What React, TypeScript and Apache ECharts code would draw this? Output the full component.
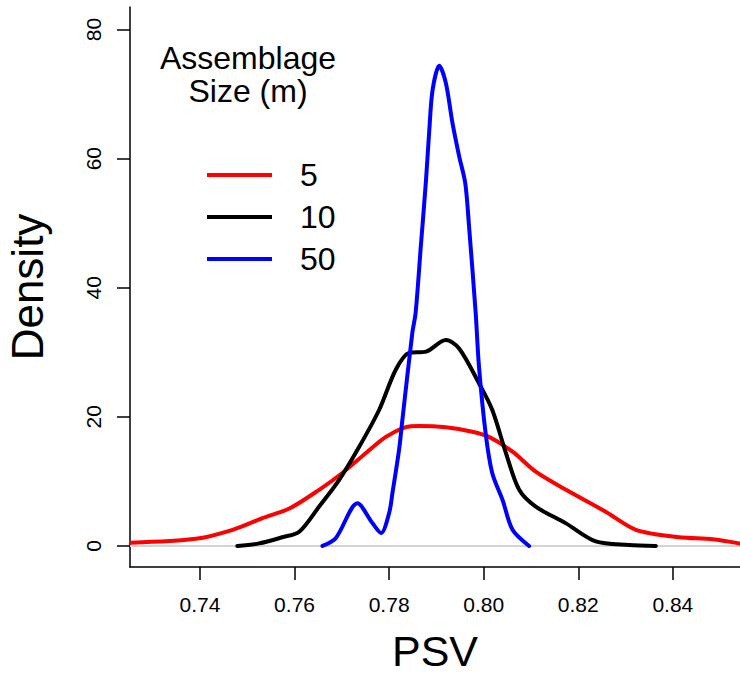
import React, { useEffect, useRef } from "react";
import * as echarts from "echarts";

const FONT = "'Liberation Sans', Arial, Helvetica, sans-serif";

const xTicks = [0.74, 0.76, 0.78, 0.8, 0.82, 0.84];
const yTicks = [0, 20, 40, 60, 80];
const seriesNames = ["5", "10", "50"];
const seriesColors = ["#ff0000", "#000000", "#0000ff"];
const legendTitle = ["Assemblage", "Size (m)"];

const psv5 = [0.7254, 0.7391, 0.7469, 0.7532, 0.7589, 0.7652, 0.7701, 0.7751, 0.7793, 0.7835, 0.7863, 0.792, 0.7976, 0.8011, 0.8061, 0.811, 0.8174, 0.8258, 0.8322, 0.8413, 0.8484, 0.854];
const dens5 = [0.5, 1.1, 2.5, 4.3, 5.8, 8.7, 11.3, 14.4, 16.9, 18.4, 18.6, 18.4, 17.7, 16.9, 14.6, 11.5, 8.7, 5.3, 2.5, 1.35, 1.04, 0.4];

const psv10 = [0.7479, 0.7525, 0.7574, 0.761, 0.7652, 0.7694, 0.7737, 0.7779, 0.7814, 0.7842, 0.7878, 0.792, 0.7948, 0.799, 0.8018, 0.8047, 0.8075, 0.811, 0.8174, 0.8237, 0.8307, 0.8364];
const dens10 = [0, 0.4, 1.35, 2.2, 6.1, 10.2, 15.4, 21.1, 27.3, 29.9, 30.1, 31.9, 30.6, 25.2, 21.1, 14.4, 8.7, 6.1, 3.5, 0.7, 0.16, 0];

const psv50 = [0.7659, 0.7687, 0.7733, 0.7765, 0.7783, 0.78, 0.7807, 0.7821, 0.7828, 0.7849, 0.7856, 0.7867, 0.7878, 0.7885, 0.7892, 0.7906, 0.792, 0.7934, 0.7948, 0.7961, 0.7969, 0.7983, 0.799, 0.8004, 0.8018, 0.804, 0.8061, 0.8096];
const dens50 = [0, 1.2, 6.6, 3.5, 2.0, 5.1, 8.2, 14.9, 19.5, 33, 36.1, 46.4, 56.7, 64.5, 70.7, 74.4, 71.7, 65.5, 60.4, 56.2, 49.5, 36.1, 27.8, 17.5, 11.3, 7.1, 2.5, 0];

const X_MIN = 0.7252;
const X_MAX = 0.8542;
const Y_MIN = -3.26;
const Y_MAX = 83.5;

const zip = (xs: number[], ys: number[]) => xs.map((x, i) => [x, ys[i]]);

export default function App() {
  const ref = useRef<HTMLDivElement>(null);
  useEffect(() => {
    if (!ref.current) return;
    const chart = echarts.init(ref.current, null, { renderer: "svg" });
    const data = [zip(psv5, dens5), zip(psv10, dens10), zip(psv50, dens50)];
    chart.setOption({
      animation: false,
      backgroundColor: "#ffffff",
      textStyle: { fontFamily: FONT },
      grid: { left: 130, top: 7, right: 0, bottom: 108, containLabel: false, outerBoundsMode: "none" },
      xAxis: {
        type: "value",
        min: X_MIN,
        max: X_MAX,
        name: "PSV",
        nameLocation: "middle",
        nameGap: 64,
        nameTextStyle: { fontSize: 43, lineHeight: 40, color: "#000", fontFamily: FONT },
        axisLine: { show: true, onZero: false, lineStyle: { color: "#000", width: 1.5 } },
        axisTick: { show: true, length: 13, customValues: xTicks, lineStyle: { color: "#000", width: 1.5 } },
        axisLabel: {
          customValues: xTicks,
          formatter: (v: number) => v.toFixed(2),
          fontSize: 21,
          color: "#000",
          margin: 27,
          fontFamily: FONT,
        },
        splitLine: { show: false },
      },
      yAxis: {
        type: "value",
        min: Y_MIN,
        max: Y_MAX,
        name: "Density",
        nameLocation: "middle",
        nameRotate: 90,
        nameGap: 81,
        nameTextStyle: { fontSize: 44, color: "#000", fontFamily: FONT },
        axisLine: { show: true, onZero: false, lineStyle: { color: "#000", width: 1.5 } },
        axisTick: { show: true, length: 13, customValues: yTicks, lineStyle: { color: "#000", width: 1.5 } },
        axisLabel: {
          customValues: yTicks,
          rotate: 90,
          fontSize: 21,
          color: "#000",
          margin: 26,
          fontFamily: FONT,
        },
        splitLine: { show: false },
      },
      legend: {
        data: seriesNames,
        orient: "vertical",
        left: 207,
        top: 159,
        padding: 0,
        icon: "rect",
        itemWidth: 65,
        itemHeight: 4,
        itemGap: 10,
        textStyle: { fontSize: 32, lineHeight: 31, color: "#000", padding: [0, 0, 0, 23], fontFamily: FONT },
      },
      graphic: legendTitle.map((t, i) => ({
        type: "text",
        x: 248,
        y: 58 + i * 33,
        style: {
          text: t,
          font: `32px ${FONT}`,
          fill: "#000",
          align: "center",
          verticalAlign: "middle",
        },
      })),
      series: [
        {
          name: "zero",
          type: "line",
          data: [[X_MIN, 0], [X_MAX, 0]],
          showSymbol: false,
          silent: true,
          z: 1,
          lineStyle: { color: "#d3d3d3", width: 2 },
          itemStyle: { color: "#d3d3d3" },
        },
        ...seriesNames.map((name, i) => ({
          name,
          type: "line",
          data: data[i],
          smooth: 0.3,
          showSymbol: false,
          z: 3 + i,
          lineStyle: { color: seriesColors[i], width: 4, cap: "round", join: "round" },
          itemStyle: { color: seriesColors[i] },
        })),
      ],
    });
    return () => chart.dispose();
  }, []);
  return (
    <div
      ref={ref}
      style={{ position: "fixed", left: 0, top: 0, width: 740, height: 675, background: "#fff" }}
    />
  );
}
